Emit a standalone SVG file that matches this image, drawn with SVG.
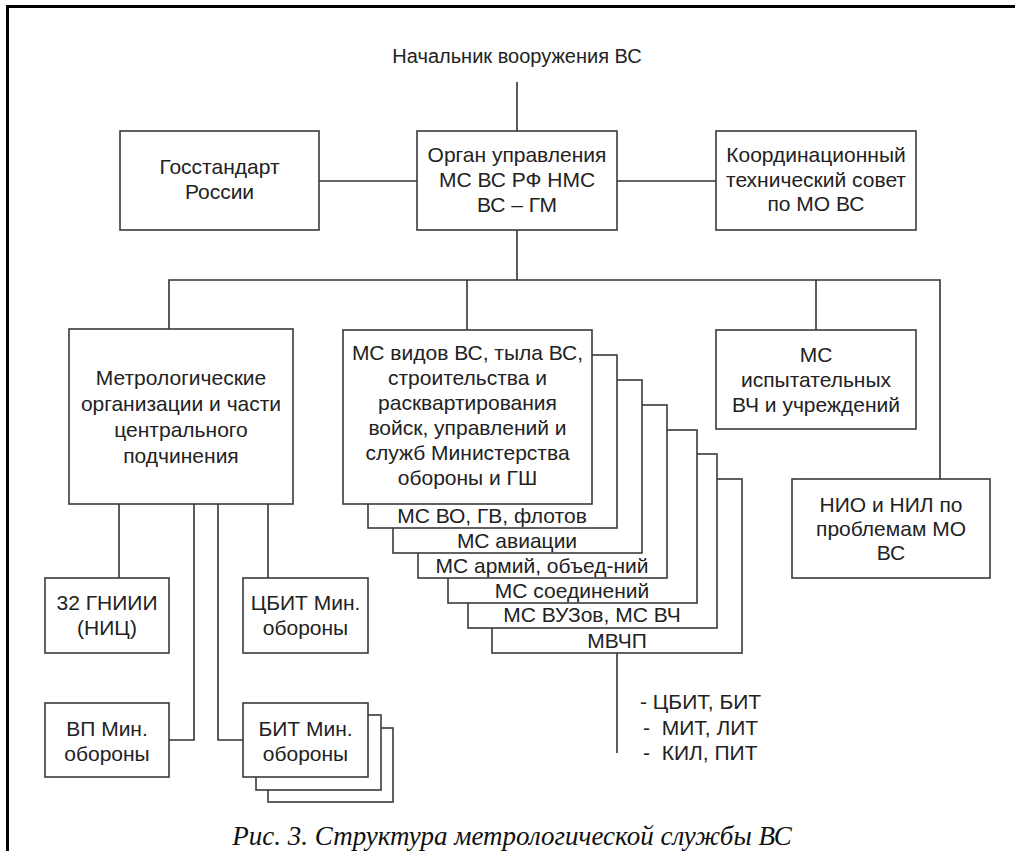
<svg xmlns="http://www.w3.org/2000/svg" width="1015" height="851" viewBox="0 0 1015 851">
<style>
.box{fill:#fff;stroke:#3a3a3a;stroke-width:1.6}
.ln{fill:none;stroke:#333;stroke-width:1.6}
.t{font-family:"Liberation Sans",Arial,sans-serif;font-size:21px;fill:#222;text-anchor:middle}
.l{font-family:"Liberation Sans",Arial,sans-serif;font-size:21px;fill:#222;white-space:pre}
.cap{font-family:"Liberation Serif","Times New Roman",serif;font-style:italic;font-size:27px;fill:#111;text-anchor:middle}
</style>
<rect width="1015" height="851" fill="#fff"/>
<path d="M7.5,851 V6.5 H1015" fill="none" stroke="#000" stroke-width="3"/>
<g id="connectors">
<path class="ln" d="M517,82 V131"/>
<path class="ln" d="M319,181 H417"/>
<path class="ln" d="M617,181 H716"/>
<path class="ln" d="M517,230 V280"/>
<path class="ln" d="M169,329 V280 H940 V479"/>
<path class="ln" d="M467,280 V330"/>
<path class="ln" d="M816,280 V330"/>
<path class="ln" d="M119,504 V578"/>
<path class="ln" d="M268,504 V578"/>
<path class="ln" d="M194,504 V740 H169"/>
<path class="ln" d="M218,504 V740 H243"/>
<path class="ln" d="M617,653 V753"/>
</g>
<g id="title"><text class="t" x="517" y="63" style="font-size:20px">Начальник вооружения ВС</text></g>
<g id="gosstandart">
<rect class="box" x="120" y="131" width="199" height="99"/>
<text class="t" x="219.5" y="174">Госстандарт</text>
<text class="t" x="219.5" y="199">России</text>
</g>
<g id="organ">
<rect class="box" x="417" y="131" width="200" height="99"/>
<text class="t" x="517" y="162">Орган управления</text>
<text class="t" x="517" y="187">МС ВС РФ НМС</text>
<text class="t" x="517" y="212">ВС – ГМ</text>
</g>
<g id="koord">
<rect class="box" x="716" y="131" width="200" height="99"/>
<text class="t" x="816" y="162">Координационный</text>
<text class="t" x="816" y="187">технический совет</text>
<text class="t" x="816" y="211">по МО ВС</text>
</g>
<g id="metrolog">
<rect class="box" x="69" y="329" width="224" height="175"/>
<text class="t" x="181" y="385">Метрологические</text>
<text class="t" x="181" y="411">организации и части</text>
<text class="t" x="181" y="437">центрального</text>
<text class="t" x="181" y="463">подчинения</text>
</g>
<g id="ms-stack">
<rect class="box" x="492" y="479" width="250" height="174"/>
<text class="t" x="617" y="648">МВЧП</text>
<rect class="box" x="468" y="454" width="249" height="174"/>
<text class="t" x="592" y="622">МС ВУЗов, МС ВЧ</text>
<rect class="box" x="448" y="430" width="249" height="173"/>
<text class="t" x="572" y="598">МС соединений</text>
<rect class="box" x="418" y="405" width="249" height="173"/>
<text class="t" x="542" y="573">МС армий, объед-ний</text>
<rect class="box" x="393" y="380" width="249" height="173"/>
<text class="t" x="517" y="548">МС авиации</text>
<rect class="box" x="368" y="355" width="249" height="173"/>
<text class="t" x="492" y="523">МС ВО, ГВ, флотов</text>
</g>
<g id="ms-main">
<rect class="box" x="343" y="330" width="249" height="174"/>
<text class="t" x="467.5" y="360">МС видов ВС, тыла ВС,</text>
<text class="t" x="467.5" y="385">строительства и</text>
<text class="t" x="467.5" y="410">расквартирования</text>
<text class="t" x="467.5" y="435">войск, управлений и</text>
<text class="t" x="467.5" y="460">служб Министерства</text>
<text class="t" x="467.5" y="485">обороны и ГШ</text>
</g>
<g id="ms-test">
<rect class="box" x="716" y="330" width="200" height="99"/>
<text class="t" x="816" y="362">МС</text>
<text class="t" x="816" y="387">испытательных</text>
<text class="t" x="816" y="412">ВЧ и учреждений</text>
</g>
<g id="nio">
<rect class="box" x="792" y="479" width="198" height="99"/>
<text class="t" x="891" y="512">НИО и НИЛ по</text>
<text class="t" x="891" y="536">проблемам МО</text>
<text class="t" x="891" y="560">ВС</text>
</g>
<g id="gniii">
<rect class="box" x="45" y="578" width="124" height="75"/>
<text class="t" x="107" y="610">32 ГНИИИ</text>
<text class="t" x="107" y="635">(НИЦ)</text>
</g>
<g id="cbit">
<rect class="box" x="243" y="578" width="125" height="75"/>
<text class="t" x="305.5" y="610">ЦБИТ Мин.</text>
<text class="t" x="305.5" y="635">обороны</text>
</g>
<g id="vp">
<rect class="box" x="45" y="703" width="124" height="74"/>
<text class="t" x="107" y="736">ВП Мин.</text>
<text class="t" x="107" y="761">обороны</text>
</g>
<g id="bit">
<rect class="box" x="268" y="728" width="125" height="74"/>
<rect class="box" x="256" y="715" width="125" height="75"/>
<rect class="box" x="243" y="703" width="125" height="74"/>
<text class="t" x="305.5" y="736">БИТ Мин.</text>
<text class="t" x="305.5" y="761">обороны</text>
</g>
<g id="list">
<text class="l" x="640" y="709">- ЦБИТ, БИТ</text>
<text class="l" x="643" y="735">-  МИТ, ЛИТ</text>
<text class="l" x="643" y="760">-  КИЛ, ПИТ</text>
</g>
<g id="caption"><text class="cap" x="512" y="845">Рис. 3. Структура метрологической службы ВС</text></g>
</svg>
